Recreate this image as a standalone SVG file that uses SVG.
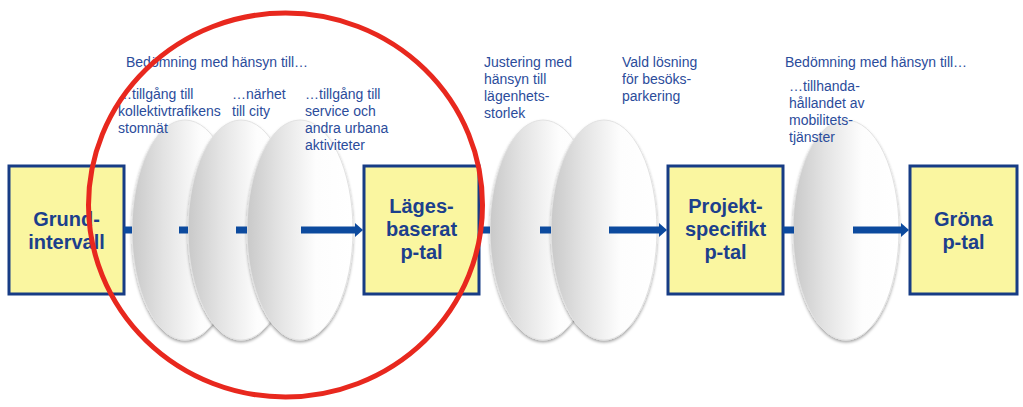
<svg xmlns="http://www.w3.org/2000/svg" width="1023" height="407" viewBox="0 0 1023 407">
  <defs>
    <linearGradient id="discGrad" x1="0" y1="0" x2="1" y2="0">
      <stop offset="0" stop-color="#c9c9c9"/>
      <stop offset="0.3" stop-color="#e3e3e3"/>
      <stop offset="0.65" stop-color="#fdfdfd"/>
      <stop offset="1" stop-color="#ffffff"/>
    </linearGradient>
    <filter id="shadow" x="-20%" y="-10%" width="140%" height="125%">
      <feDropShadow dx="0" dy="2" stdDeviation="1.8" flood-color="#000" flood-opacity="0.35"/>
    </filter>
    <marker id="head" viewBox="0 0 8 14" refX="0" refY="7" markerWidth="8" markerHeight="14" markerUnits="userSpaceOnUse" orient="auto">
      <path d="M0,0 L8,7 L0,14 Z" fill="#0c4a9e"/>
    </marker>
  </defs>
  <style>
    .box { fill: #faf6a0; stroke: #173c85; stroke-width: 3; }
    .boxtxt { font-family: "Liberation Sans", Arial, sans-serif; font-weight: bold; font-size: 20px; fill: #1c3f8c; text-anchor: middle; }
    .lbl { font-family: "Liberation Sans", Arial, sans-serif; font-size: 14px; fill: #2b4c9b; }
    .disc { fill: url(#discGrad); stroke: #e2e2e2; stroke-width: 1; filter: url(#shadow); }
    .conn { stroke: #0c4a9e; stroke-width: 7; fill: none; }
    .ring { fill: none; stroke: #e8281e; stroke-width: 5; }
  </style>

  <rect width="1023" height="407" fill="#ffffff"/>

  <!-- boxes -->
  <g id="grundintervall">
    <rect class="box" x="9" y="166" width="115" height="128"/>
    <text class="boxtxt" x="66.5" y="226">Grund-<tspan x="66.5" dy="23">intervall</tspan></text>
  </g>
  <g id="lagesbaserat">
    <rect class="box" x="364" y="166" width="115" height="128"/>
    <text class="boxtxt" x="421.5" y="213">Läges-<tspan x="421.5" dy="23">baserat</tspan><tspan x="421.5" dy="23">p-tal</tspan></text>
  </g>
  <g id="projektspecifikt">
    <rect class="box" x="668" y="166" width="115" height="128"/>
    <text class="boxtxt" x="725.5" y="213">Projekt-<tspan x="725.5" dy="23">specifikt</tspan><tspan x="725.5" dy="23">p-tal</tspan></text>
  </g>
  <g id="grona">
    <rect class="box" x="910" y="166" width="107" height="128"/>
    <text class="boxtxt" x="963.5" y="226">Gröna<tspan x="963.5" dy="23">p-tal</tspan></text>
  </g>

  <!-- discs -->
  <g id="disc-kollektivtrafik"><ellipse class="disc" cx="185" cy="230" rx="53" ry="110"/></g>
  <g id="disc-narhet"><ellipse class="disc" cx="241" cy="230" rx="53" ry="110"/></g>
  <g id="disc-service"><ellipse class="disc" cx="300" cy="230" rx="53" ry="110"/></g>
  <g id="disc-lagenhet"><ellipse class="disc" cx="543" cy="230" rx="53" ry="110"/></g>
  <g id="disc-besok"><ellipse class="disc" cx="604" cy="230" rx="53" ry="110"/></g>
  <g id="disc-mobilitet"><ellipse class="disc" cx="846" cy="230" rx="53" ry="110"/></g>

  <!-- labels -->
  <g id="labels">
    <text class="lbl" x="126" y="67">Bedömning med hänsyn till…</text>
    <text class="lbl" x="118" y="99">…tillgång till<tspan x="118" dy="17">kollektivtrafikens</tspan><tspan x="118" dy="17">stomnät</tspan></text>
    <text class="lbl" x="232" y="99">…närhet<tspan x="232" dy="17">till city</tspan></text>
    <text class="lbl" x="305" y="99">…tillgång till<tspan x="305" dy="17">service och</tspan><tspan x="305" dy="17">andra urbana</tspan><tspan x="305" dy="17">aktiviteter</tspan></text>
    <text class="lbl" x="484" y="67">Justering med<tspan x="484" dy="17">hänsyn till</tspan><tspan x="484" dy="17">lägenhets-</tspan><tspan x="484" dy="17">storlek</tspan></text>
    <text class="lbl" x="622" y="67">Vald lösning<tspan x="622" dy="17">för besöks-</tspan><tspan x="622" dy="17">parkering</tspan></text>
    <text class="lbl" x="785" y="67">Bedömning med hänsyn till…</text>
    <text class="lbl" x="789" y="91">…tillhanda-<tspan x="789" dy="17">hållandet av</tspan><tspan x="789" dy="17">mobilitets-</tspan><tspan x="789" dy="17">tjänster</tspan></text>
  </g>

  <!-- connectors -->
  <g id="connectors">
    <line class="conn" x1="124" y1="230" x2="132" y2="230"/>
    <line class="conn" x1="179" y1="230" x2="188" y2="230"/>
    <line class="conn" x1="236" y1="230" x2="247" y2="230"/>
    <line class="conn" x1="301" y1="230" x2="355" y2="230" marker-end="url(#head)"/>
    <line class="conn" x1="479" y1="230" x2="490" y2="230"/>
    <line class="conn" x1="540" y1="230" x2="551" y2="230"/>
    <line class="conn" x1="609" y1="230" x2="659" y2="230" marker-end="url(#head)"/>
    <line class="conn" x1="783" y1="230" x2="794" y2="230"/>
    <line class="conn" x1="853" y1="230" x2="901" y2="230" marker-end="url(#head)"/>
  </g>

  <!-- highlight ring -->
  <g id="highlight">
    <ellipse class="ring" cx="285.5" cy="205" rx="197" ry="192"/>
  </g>
</svg>
